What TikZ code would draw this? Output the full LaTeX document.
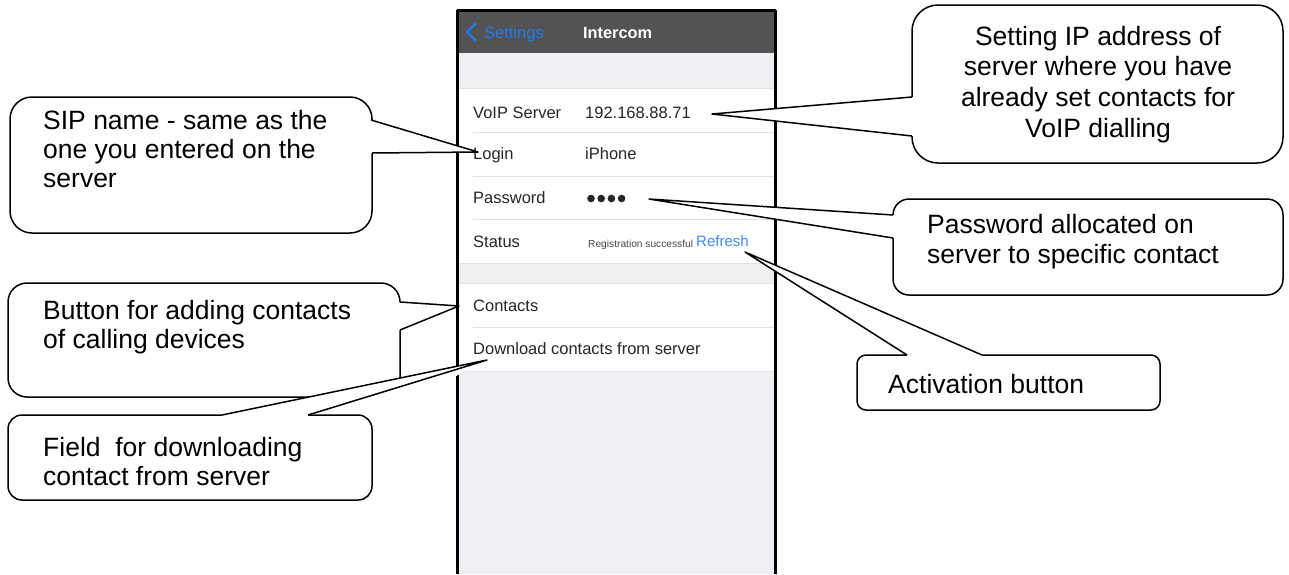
\documentclass[tikz,border=0pt]{standalone}
\usepackage{fontspec}
\setmainfont{Liberation Sans}
\definecolor{hdr}{RGB}{83,83,86}
\definecolor{band}{RGB}{239,239,244}
\definecolor{sepc}{RGB}{226,226,230}
\definecolor{txt}{RGB}{38,38,38}
\definecolor{iosblue}{RGB}{55,140,245}
\definecolor{hdrblue}{RGB}{35,122,232}
\begin{document}
\begin{tikzpicture}[x=1pt,y=-1pt,line join=round]
\tikzset{
  cbox/.style={draw=black,fill=white,line width=1.5pt},
  cline/.style={draw=black,line width=1.5pt},
  ctext/.style={font=\fontsize{26.5}{29}\selectfont,inner sep=0pt,anchor=base west,align=left},
  ptext/.style={font=\fontsize{16.5}{20}\selectfont,text=txt,inner sep=0pt,anchor=base west},
  sepline/.style={draw=sepc,line width=1pt},
}
\useasboundingbox (0,0) rectangle (1289,574);
\fill[white] (0,0) rectangle (1289,574);

% ---------- phone screen ----------
\fill[band] (457,10) rectangle (775,574);
\fill[hdr] (457,10) rectangle (775,53);
\fill[white] (457,88) rectangle (775,263);
\fill[white] (457,283) rectangle (775,371);
\draw[sepline] (457,88) -- (775,88);
\draw[sepline] (473,132) -- (775,132);
\draw[sepline] (473,176) -- (775,176);
\draw[sepline] (473,219) -- (775,219);
\draw[sepline] (457,263) -- (775,263);
\draw[sepline] (457,283) -- (775,283);
\draw[sepline] (473,327) -- (775,327);
\draw[sepline] (457,371) -- (775,371);

\draw[hdrblue,line width=2.2pt,line cap=round] (475,24) -- (467,32) -- (475,40);
\node[ptext,text=hdrblue] (settings) at (484,38) {Settings};
\node[ptext,text=white,font=\fontsize{16.3}{20}\selectfont\bfseries] (title) at (583,38) {Intercom};

\node[ptext] (voipL) at (473,118) {VoIP Server};
\node[ptext] (voipV) at (585,118) {192.168.88.71};
\node[ptext] (loginL) at (473,159) {Login};
\node[ptext] (loginV) at (585,159) {iPhone};
\node[ptext] (pwL) at (473,203) {Password};
\foreach \i in {0,1,2,3} \fill[txt] (591+10.2*\i,198.5) circle (3.8);
\node[ptext] (statL) at (473,247) {Status};
\node[ptext,font=\fontsize{10.2}{12}\selectfont,text={rgb,255:red,70;green,70;blue,70}] (statV) at (588,247) {Registration successful};
\node[ptext,font=\fontsize{15}{18}\selectfont,text=iosblue] (refresh) at (696,246.5) {Refresh};
\node[ptext] (contacts) at (473,311) {Contacts};
\node[ptext] (download) at (473,354) {Download contacts from server};

\draw[line width=3pt] (457,574) -- (457,10) -- (775,10) -- (775,574);

% ---------- callout: SIP name ----------
\draw[cbox,rounded corners=22] (10,97) rectangle (372,233);
\coordinate (sipA) at (371,120);
\coordinate (sipB) at (372,153);
\coordinate (sipTip) at (478,152);
\fill[white] (sipA) -- (sipTip) -- (sipB) -- (366,153) -- (366,120) -- cycle;
\draw[cline] (sipA) -- (sipTip) -- (sipB);
\node[ctext] (sipT) at (43,187) {SIP name - same as the\\one you entered on the\\server};

% ---------- callout: IP address ----------
\draw[cbox,rounded corners=26] (912,5) rectangle (1283,163);
\coordinate (ipA) at (912,97);
\coordinate (ipB) at (912,136);
\coordinate (ipTip) at (712,114);
\fill[white] (ipA) -- (ipTip) -- (ipB) -- (918,136) -- (918,97) -- cycle;
\draw[cline] (ipA) -- (ipTip) -- (ipB);
\node[ctext,anchor=base,align=center,font=\fontsize{26.5}{30.6}\selectfont] (ipT) at (1098,137) {Setting IP address of\\server where you have\\already set contacts for\\VoIP dialling};

% ---------- callout: password ----------
\draw[cbox,rounded corners=16] (893,199) rectangle (1283,295);
\coordinate (pwA) at (893,215);
\coordinate (pwB) at (893,238);
\coordinate (pwTip) at (649,199);
\fill[white] (pwA) -- (pwTip) -- (pwB) -- (899,238) -- (899,215) -- cycle;
\draw[cline] (pwA) -- (pwTip) -- (pwB);
\node[ctext,font=\fontsize{26.5}{30}\selectfont] (pwT) at (927,263) {Password allocated on\\server to specific contact};

% ---------- callout: activation ----------
\draw[cbox,rounded corners=9] (857,355) rectangle (1160,410);
\coordinate (acA) at (907,355);
\coordinate (acB) at (982,355);
\coordinate (acTip) at (745,252);
\fill[white] (acA) -- (acTip) -- (acB) -- (982,360) -- (907,360) -- cycle;
\draw[cline] (acA) -- (acTip) -- (acB);
\node[ctext] (acT) at (888,393) {Activation button};

% ---------- callout: contacts button ----------
\draw[cbox,rounded corners=19] (8,283) rectangle (400,397);
\coordinate (btA) at (400,302);
\coordinate (btB) at (400,330);
\coordinate (btTip) at (459,306);
\fill[white] (btA) -- (btTip) -- (btB) -- (394,330) -- (394,302) -- cycle;
\draw[cline] (btA) -- (btTip) -- (btB);
\node[ctext] (btT) at (43,348) {Button for adding contacts\\of calling devices};

% ---------- callout: download field ----------
\draw[cbox,rounded corners=14] (8,415) rectangle (372,500);
\coordinate (flA) at (222,415);
\coordinate (flB) at (308,415);
\coordinate (flTip) at (487,360);
\fill[white] (flA) -- (flTip) -- (406,402) -- (flB) -- (308,421) -- (222,421) -- cycle;
\draw[cline] (flA) -- (flTip) -- (flB);
\node[ctext] (flT) at (43,485) {Field\ \ for downloading\\contact from server};
\end{tikzpicture}
\end{document}
